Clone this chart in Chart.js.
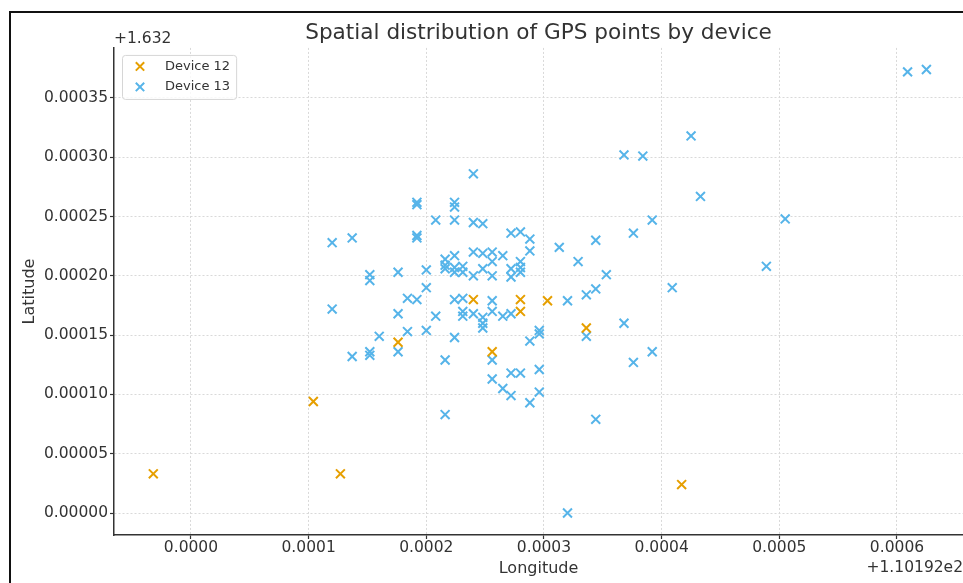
<!DOCTYPE html>
<html>
<head>
<meta charset="utf-8">
<script src="https://cdn.jsdelivr.net/npm/chart.js"></script>
<style>
  html, body { margin: 0; padding: 0; background: #fff; }
  #wrap { width: 963px; height: 583px; }
</style>
</head>
<body>
<div id="wrap"><canvas id="gpsChart"></canvas></div>
<script>
// offsets shown by the axes (+1.10192e2 and +1.632)
var LON_OFFSET = '+1.10192e2';
var LAT_OFFSET = '+1.632';

// Device 12 (values relative to the offsets)
var dev12Lon = [-0.000032, 0.000104, 0.000127, 0.000176, 0.000240, 0.000256, 0.000280, 0.000280, 0.000303, 0.000336, 0.000417];
var dev12Lat = [0.000033, 0.000094, 0.000033, 0.000144, 0.000180, 0.000136, 0.000180, 0.000170, 0.000179, 0.000156, 0.000024];

// Device 13
var dev13Lon = [0.000120, 0.000137, 0.000152, 0.000152, 0.000120, 0.000137, 0.000152, 0.000152, 0.000160,
  0.000176, 0.000176, 0.000176, 0.000184, 0.000184,
  0.000192, 0.000192, 0.000192, 0.000192, 0.000192,
  0.000200, 0.000200, 0.000200, 0.000208, 0.000208,
  0.000216, 0.000216, 0.000216, 0.000216, 0.000216,
  0.000224, 0.000224, 0.000224, 0.000224, 0.000224, 0.000224, 0.000224, 0.000224,
  0.000231, 0.000231, 0.000231, 0.000231, 0.000231,
  0.000240, 0.000240, 0.000240, 0.000240, 0.000240,
  0.000248, 0.000248, 0.000248, 0.000248, 0.000248, 0.000248,
  0.000256, 0.000256, 0.000256, 0.000256, 0.000256, 0.000256, 0.000256,
  0.000265, 0.000265, 0.000265,
  0.000272, 0.000272, 0.000272, 0.000272, 0.000272, 0.000272,
  0.000280, 0.000280, 0.000280, 0.000280, 0.000280,
  0.000288, 0.000288, 0.000288, 0.000288,
  0.000296, 0.000296, 0.000296, 0.000296,
  0.000313, 0.000320, 0.000320, 0.000329, 0.000336, 0.000336,
  0.000344, 0.000344, 0.000344, 0.000353, 0.000368, 0.000368,
  0.000376, 0.000376, 0.000384, 0.000392, 0.000392, 0.000409,
  0.000425, 0.000433, 0.000489, 0.000505, 0.000609, 0.000625];
var dev13Lat = [0.000228, 0.000232, 0.000201, 0.000196, 0.000172, 0.000132, 0.000136, 0.000133, 0.000149,
  0.000203, 0.000168, 0.000136, 0.000181, 0.000153,
  0.000180, 0.000262, 0.000260, 0.000234, 0.000232,
  0.000205, 0.000190, 0.000154, 0.000247, 0.000166,
  0.000214, 0.000209, 0.000206, 0.000129, 0.000083,
  0.000262, 0.000258, 0.000247, 0.000217, 0.000207, 0.000203, 0.000180, 0.000148,
  0.000208, 0.000203, 0.000181, 0.000170, 0.000166,
  0.000286, 0.000245, 0.000220, 0.000200, 0.000168,
  0.000244, 0.000219, 0.000206, 0.000165, 0.000160, 0.000156,
  0.000220, 0.000212, 0.000200, 0.000179, 0.000170, 0.000129, 0.000113,
  0.000217, 0.000166, 0.000105,
  0.000236, 0.000206, 0.000199, 0.000168, 0.000118, 0.000099,
  0.000237, 0.000212, 0.000207, 0.000203, 0.000118,
  0.000231, 0.000221, 0.000145, 0.000093,
  0.000154, 0.000151, 0.000121, 0.000102,
  0.000224, 0.000179, 0.000000, 0.000212, 0.000184, 0.000149,
  0.000230, 0.000189, 0.000079, 0.000201, 0.000302, 0.000160,
  0.000236, 0.000127, 0.000301, 0.000247, 0.000136, 0.000190,
  0.000318, 0.000267, 0.000208, 0.000248, 0.000372, 0.000374];

var xTicks = [0, 0.0001, 0.0002, 0.0003, 0.0004, 0.0005, 0.0006];
var yTicks = [0, 0.00005, 0.0001, 0.00015, 0.0002, 0.00025, 0.0003, 0.00035];

function toPoints(xs, ys) {
  var pts = [];
  for (var i = 0; i < xs.length; i++) pts.push({ x: xs[i], y: ys[i] });
  return pts;
}

var FONT = '"DejaVu Sans", "Liberation Sans", sans-serif';
var TEXT = '#333333';

// frame, offset texts and the boxed legend inside the axes
var extras = {
  id: 'extras',
  beforeDraw: function (chart) {
    var ctx = chart.ctx;
    ctx.save();
    ctx.fillStyle = '#ffffff';
    ctx.fillRect(0, 0, chart.width, chart.height);
    ctx.strokeStyle = '#111111';
    ctx.lineWidth = 2;
    ctx.beginPath();
    ctx.moveTo(10, chart.height);
    ctx.lineTo(10, 12);
    ctx.lineTo(chart.width, 12);
    ctx.stroke();
    ctx.restore();
  },
  afterDraw: function (chart) {
    var ctx = chart.ctx, ca = chart.chartArea;
    ctx.save();
    ctx.fillStyle = TEXT;
    ctx.font = '15.5px ' + FONT;
    ctx.textBaseline = 'alphabetic';
    ctx.textAlign = 'left';
    ctx.fillText(LAT_OFFSET, ca.left, ca.top - 5);
    ctx.textAlign = 'right';
    ctx.fillText(LON_OFFSET, chart.width, chart.height - 11);

    // legend
    ctx.font = '13px ' + FONT;
    var sets = chart.data.datasets;
    var tw = 0;
    sets.forEach(function (d) { tw = Math.max(tw, ctx.measureText(d.label).width); });
    var bx = ca.left + 8, by = ca.top + 7, bw = 43 + tw + 6, bh = 44;
    ctx.beginPath();
    ctx.roundRect(bx + 0.5, by + 0.5, bw, bh, 3);
    ctx.fillStyle = 'rgba(255,255,255,0.8)';
    ctx.fill();
    ctx.strokeStyle = '#d6d6d6';
    ctx.lineWidth = 1;
    ctx.stroke();
    sets.forEach(function (d, i) {
      var cy = by + 11.5 + i * 20.5, cx = bx + 18, h = 4.2;
      ctx.strokeStyle = d.borderColor;
      ctx.lineWidth = 2;
      ctx.beginPath();
      ctx.moveTo(cx - h, cy - h); ctx.lineTo(cx + h, cy + h);
      ctx.moveTo(cx - h, cy + h); ctx.lineTo(cx + h, cy - h);
      ctx.stroke();
      ctx.fillStyle = TEXT;
      ctx.textAlign = 'left';
      ctx.textBaseline = 'middle';
      ctx.fillText(d.label, bx + 43, cy);
    });
    ctx.restore();
  }
};

var ctxGps = document.getElementById('gpsChart').getContext('2d');
var gpsChart = new Chart(ctxGps, {
  type: 'scatter',
  data: {
    datasets: [{
      label: 'Device 12',
      data: toPoints(dev12Lon, dev12Lat),
      borderColor: '#E69F00',
      backgroundColor: '#E69F00',
      pointStyle: 'crossRot',
      pointRadius: 6.3,
      pointHoverRadius: 6.3,
      borderWidth: 2
    }, {
      label: 'Device 13',
      data: toPoints(dev13Lon, dev13Lat),
      borderColor: '#56B4E9',
      backgroundColor: '#56B4E9',
      pointStyle: 'crossRot',
      pointRadius: 6.3,
      pointHoverRadius: 6.3,
      borderWidth: 2
    }]
  },
  options: {
    responsive: true,
    maintainAspectRatio: false,
    animation: false,
    layout: { padding: 0, autoPadding: false },
    plugins: {
      legend: { display: false },
      tooltip: { enabled: false },
      title: {
        display: true,
        text: 'Spatial distribution of GPS points by device',
        fullSize: false,
        color: TEXT,
        font: { family: FONT, size: 21.6, weight: 'normal' },
        padding: { top: 20, bottom: 2 }
      }
    },
    scales: {
      x: {
        type: 'linear',
        min: -0.0000654,
        max: 0.0006561,
        afterBuildTicks: function (s) { s.ticks = xTicks.map(function (v) { return { value: v }; }); },
        afterFit: function (s) { s.height = 48; s.paddingLeft = 0; s.paddingRight = 0; },
        ticks: {
          color: TEXT,
          padding: 0,
          maxRotation: 0,
          autoSkip: false,
          font: { family: FONT, size: 15.5 },
          callback: function (v) { return v.toFixed(4); }
        },
        grid: { color: '#d9d9d9', lineWidth: 1, tickLength: 4, tickColor: '#333333', tickWidth: 1.2 },
        border: { display: true, color: '#333333', width: 1.5, dash: [2, 2] },
        title: {
          display: true, text: 'Longitude', color: TEXT,
          font: { family: FONT, size: 16 }, padding: { top: 0, bottom: 5 }
        }
      },
      y: {
        type: 'linear',
        min: -0.00001855,
        max: 0.0003922,
        afterBuildTicks: function (s) { s.ticks = yTicks.map(function (v) { return { value: v }; }); },
        afterFit: function (s) { s.width = 114; },
        ticks: {
          color: TEXT,
          padding: 2,
          autoSkip: false,
          font: { family: FONT, size: 15.5 },
          callback: function (v) { return v.toFixed(5); }
        },
        grid: { color: '#d9d9d9', lineWidth: 1, tickLength: 4, tickColor: '#333333', tickWidth: 1.2 },
        border: { display: true, color: '#333333', width: 1.5, dash: [2, 2] },
        title: {
          display: true, text: 'Latitude', color: TEXT,
          font: { family: FONT, size: 16 }, padding: { top: 20, bottom: 0 }
        }
      }
    }
  },
  plugins: [extras]
});
</script>
</body>
</html>
